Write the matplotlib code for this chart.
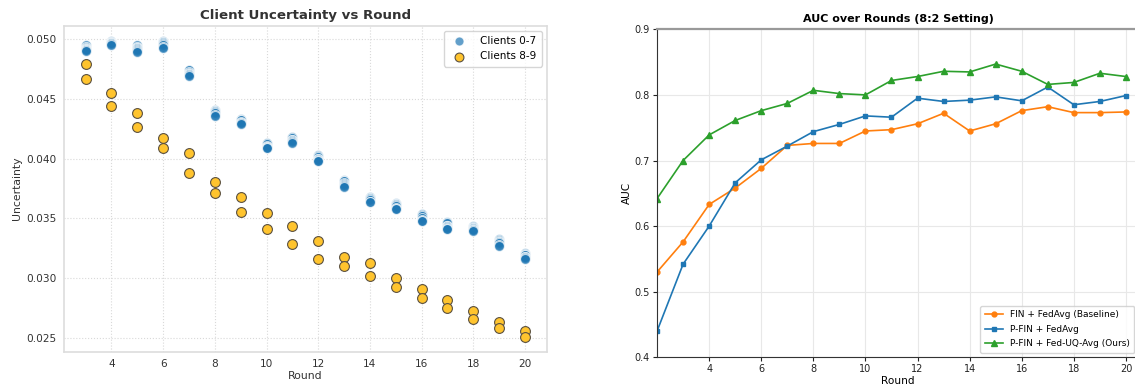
import numpy as np
import matplotlib
matplotlib.use("Agg")
import matplotlib.pyplot as plt

# ---- left panel: per-client uncertainty per round
rounds_u = [3, 4, 5, 6, 7, 8, 9, 10, 11, 12, 13, 14, 15, 16, 17, 18, 19, 20]
unc_clients_0_7 = [
    [0.0495, 0.0494, 0.0493, 0.0492, 0.0492, 0.0491, 0.0491, 0.0490],
    [0.0499, 0.0498, 0.0498, 0.0497, 0.0497, 0.0497, 0.0496, 0.0495],
    [0.0495, 0.0494, 0.0493, 0.0493, 0.0492, 0.0491, 0.0490, 0.0489],
    [0.0499, 0.0498, 0.0498, 0.0497, 0.0496, 0.0495, 0.0494, 0.0493],
    [0.0474, 0.0474, 0.0473, 0.0472, 0.0471, 0.0471, 0.0470, 0.0469],
    [0.0441, 0.0441, 0.0440, 0.0440, 0.0439, 0.0438, 0.0437, 0.0436],
    [0.0433, 0.0433, 0.0432, 0.0432, 0.0431, 0.0430, 0.0430, 0.0429],
    [0.0413, 0.0413, 0.0412, 0.0411, 0.0410, 0.0410, 0.0409, 0.0409],
    [0.0418, 0.0418, 0.0417, 0.0416, 0.0416, 0.0415, 0.0414, 0.0413],
    [0.0403, 0.0402, 0.0401, 0.0400, 0.0400, 0.0399, 0.0398, 0.0398],
    [0.0382, 0.0381, 0.0381, 0.0380, 0.0379, 0.0378, 0.0377, 0.0376],
    [0.0368, 0.0368, 0.0367, 0.0367, 0.0366, 0.0365, 0.0364, 0.0364],
    [0.0363, 0.0362, 0.0362, 0.0361, 0.0360, 0.0359, 0.0358, 0.0358],
    [0.0354, 0.0354, 0.0353, 0.0352, 0.0350, 0.0349, 0.0348, 0.0348],
    [0.0347, 0.0346, 0.0344, 0.0344, 0.0343, 0.0342, 0.0341, 0.0341],
    [0.0344, 0.0343, 0.0342, 0.0342, 0.0341, 0.0340, 0.0340, 0.0339],
    [0.0333, 0.0332, 0.0331, 0.0330, 0.0330, 0.0329, 0.0328, 0.0327],
    [0.0321, 0.0320, 0.0319, 0.0319, 0.0318, 0.0318, 0.0317, 0.0316],
]
unc_clients_8_9 = [
    [0.0479, 0.04665], [0.04547, 0.04443], [0.0438, 0.04262], [0.04175, 0.04086],
    [0.0405, 0.03877], [0.03806, 0.03709], [0.0368, 0.03552], [0.03541, 0.0341],
    [0.03432, 0.03284], [0.03312, 0.03161], [0.03175, 0.031], [0.03125, 0.03013],
    [0.0300, 0.02921], [0.0291, 0.02834], [0.02815, 0.02745], [0.02722, 0.0266],
    [0.02633, 0.02583], [0.02557, 0.02507],
]

# ---- right panel: AUC per round
rounds_auc = [2, 3, 4, 5, 6, 7, 8, 9, 10, 11, 12, 13, 14, 15, 16, 17, 18, 19, 20]
auc_fin_fedavg = [0.530, 0.576, 0.633, 0.658, 0.688, 0.723, 0.726, 0.726, 0.745, 0.747,
                  0.756, 0.772, 0.745, 0.756, 0.776, 0.782, 0.773, 0.773, 0.774]
auc_pfin_fedavg = [0.440, 0.542, 0.600, 0.666, 0.701, 0.722, 0.744, 0.755, 0.768, 0.766,
                   0.795, 0.790, 0.792, 0.797, 0.791, 0.812, 0.785, 0.790, 0.799]
auc_pfin_fedvq = [0.642, 0.700, 0.739, 0.761, 0.776, 0.787, 0.807, 0.802, 0.800, 0.822,
                  0.828, 0.836, 0.835, 0.847, 0.836, 0.816, 0.819, 0.833, 0.828]
auc_labels = ["FIN + FedAvg (Baseline)", "P-FIN + FedAvg", "P-FIN + Fed-UQ-Avg (Ours)"]

fig = plt.figure(figsize=(11.35, 3.85), dpi=100)
txt = "#333333"

# ------------------ left
ax1 = fig.add_axes([0.0561, 0.0865, 0.4258, 0.8467])
xs_a = np.repeat(rounds_u, 8)
ys_a = np.array(unc_clients_0_7).ravel()
xs_b = np.repeat(rounds_u, 2)
ys_b = np.array(unc_clients_8_9).ravel()
ax1.scatter(xs_a, ys_a, s=52, c="#1f77b4", alpha=0.7, edgecolors="white",
            linewidths=0.8, label="Clients 0-7", zorder=3)
ax1.scatter(xs_b, ys_b, s=50, c="#FFC42E", edgecolors="#5a5040",
            linewidths=0.8, label="Clients 8-9", zorder=4)
ax1.set_xticks(range(4, 21, 2))
ax1.set_yticks([0.025, 0.030, 0.035, 0.040, 0.045, 0.050])
ax1.grid(True, ls=":", color="#d9d9d9", lw=0.8)
ax1.set_axisbelow(True)
for s in ax1.spines.values():
    s.set_color("#dddddd")
    s.set_linewidth(1.2)
ax1.tick_params(length=0, labelsize=7.6, colors=txt, pad=5)
ax1.set_title("Client Uncertainty vs Round", fontsize=9.6, fontweight="bold", color=txt, pad=5)
ax1.set_xlabel("Round", fontsize=7.8, color=txt, labelpad=2)
ax1.set_ylabel("Uncertainty", fontsize=7.8, color=txt, labelpad=3)
leg1 = ax1.legend(loc="upper right", fontsize=7.5, frameon=True, handletextpad=1.0,
                  borderpad=0.5, labelspacing=0.5, markerscale=0.9)
leg1.get_frame().set_edgecolor("#cccccc")

# ------------------ right
narrow = ["Liberation Sans Narrow", "DejaVu Sans"]
ax2 = fig.add_axes([0.5789, 0.0719, 0.4246, 0.852])
ax2.plot(rounds_auc, auc_fin_fedavg, color="#ff7f0e", marker="o", ms=3.5, lw=1.2, label=auc_labels[0])
ax2.plot(rounds_auc, auc_pfin_fedavg, color="#1f77b4", marker="s", ms=3.5, lw=1.2, label=auc_labels[1])
ax2.plot(rounds_auc, auc_pfin_fedvq, color="#2ca02c", marker="^", ms=4.5, lw=1.2, label=auc_labels[2])
ax2.set_xlim(2, 20.5)
ax2.set_ylim(0.4, 0.9)
ax2.set_xticks(range(4, 21, 2))
ax2.set_yticks([0.4, 0.5, 0.6, 0.7, 0.8, 0.9])
ax2.grid(True, color="#e8e8e8", lw=0.8)
ax2.set_axisbelow(True)
ax2.spines["left"].set_color("#333333")
ax2.spines["bottom"].set_color("#333333")
ax2.spines["top"].set_color("#999999")
ax2.spines["top"].set_linewidth(1.6)
ax2.spines["right"].set_visible(False)
ax2.tick_params(length=3, width=0.8, labelsize=7, colors="#222222", pad=2)
for lab in ax2.get_xticklabels() + ax2.get_yticklabels():
    lab.set_family(narrow)
ax2.set_title("AUC over Rounds (8:2 Setting)", fontsize=8.0, fontweight="bold",
              family=narrow, pad=5)
ax2.set_xlabel("Round", fontsize=7.6, family=narrow, labelpad=1)
ax2.set_ylabel("AUC", fontsize=7.6, family=narrow, labelpad=2)
ax2.legend(loc="lower right", prop={"family": narrow, "size": 6.5}, frameon=True,
           borderpad=0.5, labelspacing=0.6, handlelength=2.0, bbox_to_anchor=(1.0, 0.0))

fig.savefig("out.png", dpi=100)
